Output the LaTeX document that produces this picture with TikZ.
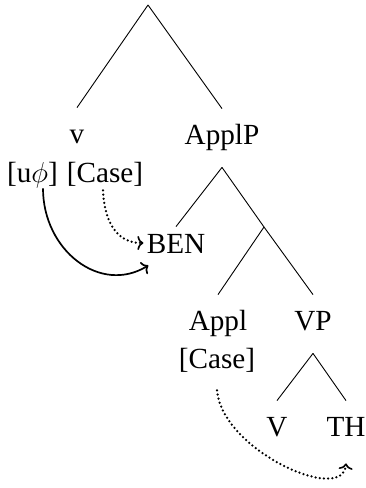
\documentclass[tikz,border=0pt]{standalone}
\usepackage{fontspec}
\setmainfont{Liberation Serif}
\usetikzlibrary{arrows.meta}
\begin{document}
\begin{tikzpicture}[x=0.5pt,y=-0.5pt,
  every node/.style={font=\fontsize{14.6}{17}\selectfont},
  lbl/.style={anchor=base,inner sep=0pt,text height=17.5pt,text depth=11.5pt},
  benlbl/.style={anchor=base,inner sep=0pt,text height=13pt,text depth=0pt},
  feat/.style={anchor=base,inner sep=0pt,text depth=3pt},
  branch/.style={line width=0.45pt},
  agree/.style={line width=0.85pt,-{To[length=3pt,width=7pt]}},
  casearr/.style={line width=1.25pt,dash pattern=on 0pt off 2.1pt,line cap=round,-{To[length=3pt,width=7pt,line width=0.8pt]}}]
\useasboundingbox (0,0) rectangle (365,488);
\coordinate (root) at (148,5);
\node[lbl] (v) at (77,143) {v};
\node[lbl] (applp) at (222,144) {ApplP};
\node[feat] (uphi) at (32.5,182) {[u$\phi$]};
\node[feat] (case1) at (105,182) {[Case]};
\node[benlbl] (ben) at (176,253) {BEN};
\coordinate (x) at (264,227);
\node[lbl] (appl) at (218,330) {Appl};
\node[feat] (case2) at (217,368) {[Case]};
\node[lbl] (vp) at (313,330) {VP};
\node[lbl] (vv) at (277,436) {V};
\node[lbl] (th) at (346,436) {TH};
\draw[branch] (root) -- (v.north);
\draw[branch] (root) -- (applp.north);
\draw[branch] (applp.south) -- (ben.north);
\draw[branch] (applp.south) -- (x);
\draw[branch] (x) -- (appl.north);
\draw[branch] (x) -- (vp.north);
\draw[branch] (vp.south) -- (vv.north);
\draw[branch] (vp.south) -- (th.north);
\draw[agree] ([xshift=5.25pt]uphi.south) .. controls (43,250) and (100,295) .. ([xshift=1pt,yshift=-6pt]ben.south west);
\draw[casearr] ([xshift=-1pt,yshift=-1pt]case1.south) .. controls (105,230) and (122,243) .. ([xshift=-1.5pt,yshift=-1.5pt]ben.west);
\draw[casearr] ([yshift=-8pt]case2.south) .. controls (222,450) and (343,505) .. ([yshift=-2pt]th.south);
\end{tikzpicture}
\end{document}
